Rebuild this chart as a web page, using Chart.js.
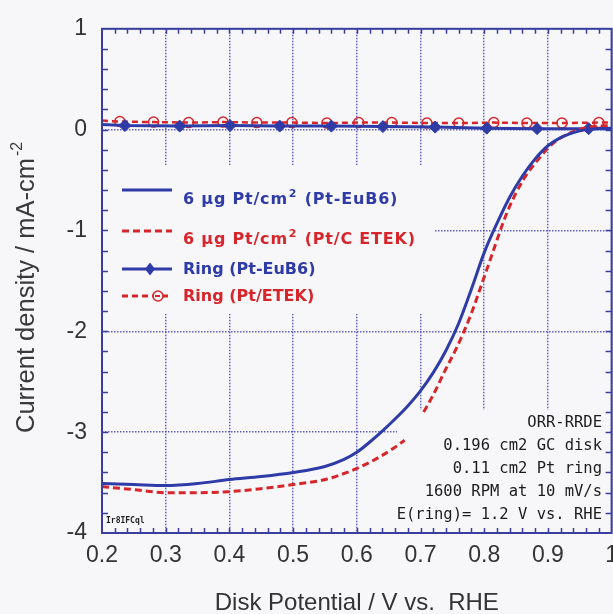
<!DOCTYPE html>
<html>
<head>
<meta charset="utf-8">
<script src="https://cdn.jsdelivr.net/npm/chart.js@4"></script>
<style>
html,body{margin:0;padding:0;overflow:hidden;background:#f7f7f9;width:613px;height:614px}
#wrap{position:absolute;left:0;top:0;width:627px;height:625px}
</style>
</head>
<body>
<div id="wrap"><canvas id="c"></canvas></div>
<script>
// ---- data ----
const diskEuB6X = [0.20,0.25,0.30,0.35,0.40,0.45,0.50,0.55,0.58,0.60,0.62,0.64,0.66,0.68,0.70,0.72,0.74,0.76,0.78,0.80,0.82,0.84,0.86,0.88,0.90,0.92,0.94,0.96,0.98,1.00];
const diskEuB6Y = [-3.51,-3.52,-3.53,-3.51,-3.47,-3.44,-3.40,-3.34,-3.27,-3.20,-3.10,-2.99,-2.87,-2.74,-2.59,-2.41,-2.19,-1.92,-1.58,-1.22,-0.93,-0.67,-0.46,-0.29,-0.16,-0.08,-0.03,0.00,0.01,0.01];

const diskEtekX = [0.20,0.25,0.30,0.35,0.40,0.45,0.50,0.55,0.58,0.60,0.62,0.64,0.66,0.675,0.69,0.705,0.72,0.74,0.757,0.78,0.794,0.81,0.836,0.862,0.883,0.909,0.94,0.97,1.00];
const diskEtekY = [-3.54,-3.57,-3.60,-3.60,-3.59,-3.56,-3.52,-3.47,-3.41,-3.36,-3.30,-3.23,-3.15,-3.08,null,-2.80,-2.63,-2.37,-2.16,-1.82,-1.57,-1.28,-0.82,-0.49,-0.31,-0.13,-0.02,0.03,0.04];

const ringEuB6X = [0.20,0.236,0.322,0.401,0.479,0.560,0.641,0.723,0.804,0.883,0.964,1.00];
const ringEuB6Y = [0.05,0.04,0.035,0.04,0.035,0.035,0.03,0.025,0.015,0.01,0.01,0.015];

const ringEtekX = [0.20,0.228,0.281,0.336,0.390,0.443,0.498,0.553,0.603,0.655,0.710,0.760,0.815,0.867,0.922,0.980,1.00];
const ringEtekY = [0.09,0.08,0.075,0.07,0.075,0.07,0.07,0.065,0.07,0.07,0.065,0.065,0.07,0.065,0.065,0.07,0.07];

const seriesLabels = ["6 \u03bcg Pt/cm\u00b2 (Pt-EuB6)", "6 \u03bcg Pt/cm\u00b2 (Pt/C ETEK)", "Ring (Pt-EuB6)", "Ring (Pt/ETEK)"];
const noteLines = ["ORR-RRDE", "0.196 cm2 GC disk", "0.11 cm2 Pt ring", "1600 RPM at 10 mV/s", "E(ring)= 1.2 V vs. RHE"];
const fileTag = "Ir8IFCql";
const xTitle = "Disk Potential / V vs.  RHE";
const yTitle = "Current density / mA-cm";
const yTitleSup = "-2";
const xMin = 0.2, xMax = 1.0, xStep = 0.1, xMinor = 0.02;
const yMin = -4, yMax = 1, yStep = 1, yMinor = 0.2;

// ---- styles ----
const BLUE = '#2f3ba6', RED = '#d7262b', FRAME = '#3a3f9f', GRID = 'rgba(70,70,185,0.85)', BG = '#f7f7f9';
const pts = (xs, ys) => xs.map((x, i) => ({x: x, y: ys[i]}));
const endless = r => ctx => (ctx.dataIndex === 0 || ctx.dataIndex === ctx.dataset.data.length - 1) ? 0 : r;

const boxes = [
  {x1: 103, y1: 165, x2: 435, y2: 314},
  {x1: 397, y1: 410, x2: 610, y2: 531}
];

const decor = {
  id: 'decor',
  beforeDatasetsDraw(chart) {
    const ctx = chart.ctx, a = chart.chartArea, xs = chart.scales.x, ys = chart.scales.y;
    ctx.save();
    ctx.fillStyle = BG;
    boxes.forEach(b => ctx.fillRect(b.x1, b.y1, b.x2 - b.x1, b.y2 - b.y1));
    // inner minor ticks
    ctx.strokeStyle = FRAME; ctx.lineWidth = 1.5;
    ctx.beginPath();
    const nx = Math.round((xMax - xMin) / xMinor);
    for (let i = 1; i < nx; i++) {
      const px = Math.round(xs.getPixelForValue(xMin + i * xMinor)) + 0.5;
      ctx.moveTo(px, a.bottom); ctx.lineTo(px, a.bottom - 5);
      ctx.moveTo(px, a.top); ctx.lineTo(px, a.top + 5);
    }
    const ny = Math.round((yMax - yMin) / yMinor);
    for (let i = 1; i < ny; i++) {
      const py = Math.round(ys.getPixelForValue(yMin + i * yMinor)) + 0.5;
      ctx.moveTo(a.left, py); ctx.lineTo(a.left + 6, py);
      ctx.moveTo(a.right, py); ctx.lineTo(a.right - 6, py);
    }
    ctx.stroke();
    // legend
    const sets = chart.data.datasets;
    const lineY = [190, 231, 269, 296];
    const textY = [200, 240, 270, 297];
    for (let i = 0; i < 4; i++) {
      const ds = sets[i];
      ctx.save();
      ctx.strokeStyle = ds.borderColor; ctx.lineWidth = 3;
      ctx.setLineDash(ds.borderDash || []);
      ctx.beginPath(); ctx.moveTo(122, lineY[i]); ctx.lineTo(i === 3 ? 168 : 172, lineY[i]); ctx.stroke();
      ctx.setLineDash([]);
      if (i === 2) {
        ctx.fillStyle = BLUE; ctx.beginPath();
        ctx.moveTo(150, lineY[i] - 6.5); ctx.lineTo(155, lineY[i]); ctx.lineTo(150, lineY[i] + 6.5); ctx.lineTo(145, lineY[i]); ctx.closePath(); ctx.fill();
      }
      if (i === 3) {
        ctx.fillStyle = BG; ctx.strokeStyle = RED; ctx.lineWidth = 1.5;
        ctx.beginPath(); ctx.arc(158, lineY[i], 5, 0, Math.PI * 2); ctx.fill(); ctx.stroke();
        ctx.fillStyle = RED; ctx.fillRect(155, lineY[i] - 1, 5, 2);
      }
      ctx.restore();
      ctx.save();
      ctx.fillStyle = ds.borderColor;
      ctx.textBaseline = 'middle'; ctx.textAlign = 'left';
      const parts = ds.label.split('\u00b2');
      let x = 183;
      if (parts.length > 1) ctx.letterSpacing = '0.8px';
      ctx.font = 'bold 16px "DejaVu Sans"';
      ctx.fillText(parts[0], x, textY[i]);
      x += ctx.measureText(parts[0]).width;
      if (parts.length > 1) {
        ctx.font = 'bold 11px "DejaVu Sans"';
        ctx.fillText('2', x + 1, textY[i] - 6);
        x += ctx.measureText('2').width + 2;
        ctx.font = 'bold 16px "DejaVu Sans"';
        ctx.fillText(parts[1], x, textY[i]);
      }
      ctx.restore();
    }
    // note block
    ctx.fillStyle = '#1c1c1c';
    ctx.font = '15.5px "DejaVu Sans Mono"';
    ctx.textAlign = 'right'; ctx.textBaseline = 'middle';
    noteLines.forEach((t, i) => ctx.fillText(t, 602, 423 + i * 23));
    ctx.textAlign = 'left';
    ctx.font = 'bold 8px "DejaVu Sans Mono"';
    ctx.fillText(fileTag, 106, 521);
    ctx.restore();
  },
  afterDraw(chart) {
    const ctx = chart.ctx, a = chart.chartArea;
    ctx.save();
    ctx.strokeStyle = FRAME; ctx.lineWidth = 2;
    ctx.strokeRect(a.left, a.top, a.right - a.left, a.bottom - a.top);
    // y axis title with superscript
    ctx.fillStyle = '#3a3a3a';
    ctx.translate(34, 433);
    ctx.rotate(-Math.PI / 2);
    ctx.textAlign = 'left'; ctx.textBaseline = 'alphabetic';
    ctx.font = '25.5px "Liberation Sans"';
    ctx.fillText(yTitle, 0, 0);
    const w = ctx.measureText(yTitle).width;
    ctx.font = '16px "Liberation Sans"';
    ctx.fillText(yTitleSup, w + 2, -12);
    ctx.restore();
  }
};

const fmt = v => String(Math.round(v * 10) / 10);

new Chart(document.getElementById('c'), {
  type: 'line',
  data: {
    datasets: [
      {label: seriesLabels[0], data: pts(diskEuB6X, diskEuB6Y), borderColor: BLUE, borderWidth: 3, pointRadius: 0, cubicInterpolationMode: 'monotone', spanGaps: false},
      {label: seriesLabels[1], data: pts(diskEtekX, diskEtekY), borderColor: RED, borderWidth: 3, borderDash: [7, 4], pointRadius: 0, cubicInterpolationMode: 'monotone', spanGaps: false},
      {label: seriesLabels[2], data: pts(ringEuB6X, ringEuB6Y), borderColor: BLUE, borderWidth: 3, pointStyle: 'rectRot', pointRadius: endless(6), pointBackgroundColor: BLUE, pointBorderColor: BLUE, pointBorderWidth: 1},
      {label: seriesLabels[3], data: pts(ringEtekX, ringEtekY), borderColor: RED, borderWidth: 2.5, borderDash: [6, 4], pointStyle: 'circle', pointRadius: endless(5), pointBackgroundColor: 'rgba(0,0,0,0)', pointBorderColor: RED, pointBorderWidth: 1.5}
    ]
  },
  options: {
    responsive: true, maintainAspectRatio: false, animation: false,
    layout: {padding: {left: 0, top: 25, right: 2, bottom: 0}},
    plugins: {legend: {display: false}, tooltip: {enabled: false}},
    scales: {
      x: {
        type: 'linear', min: xMin, max: xMax,
        ticks: {stepSize: xStep, padding: 9, color: '#333', font: {family: 'Liberation Sans', size: 23}, callback: fmt},
        grid: {color: GRID, lineWidth: 1.5, drawTicks: false},
        border: {display: false, dash: [1.5, 1.5]},
        title: {display: true, text: xTitle, color: '#333', font: {family: 'Liberation Sans', size: 24}, padding: {top: 0, bottom: 7}},
        afterFit(s) { s.height = 92; }
      },
      y: {
        type: 'linear', min: yMin, max: yMax,
        ticks: {stepSize: yStep, padding: 15, color: '#333', font: {family: 'Liberation Sans', size: 23}, callback: fmt},
        grid: {color: GRID, lineWidth: 1.5, drawTicks: false},
        border: {display: false, dash: [1.5, 1.5]},
        afterFit(s) { s.width = 102; }
      }
    }
  },
  plugins: [decor]
});
</script>
</body>
</html>
